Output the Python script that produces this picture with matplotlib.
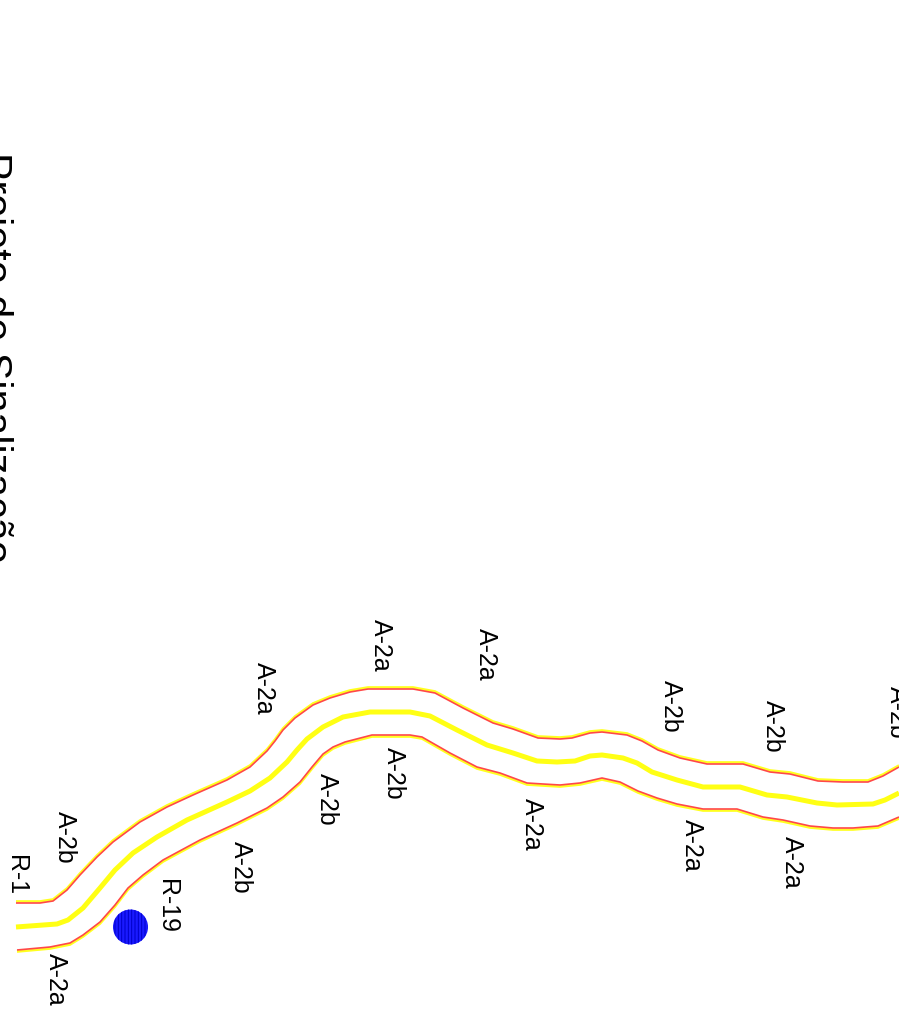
import matplotlib
matplotlib.use("Agg")
import matplotlib.pyplot as plt
from matplotlib.patches import Circle
from matplotlib.transforms import ScaledTranslation

plt.rcParams['font.family'] = ['Liberation Sans', 'DejaVu Sans']
plt.rcParams['hatch.linewidth'] = 0.7

TITLE = "Projeto de Sinalização"

top_x = [16, 40, 53, 67, 80, 97, 113, 140, 167, 193, 227, 250, 267, 275, 283, 295, 313, 330, 350, 368,
         413, 435, 463, 493, 513, 538, 560, 572, 590, 602, 627, 642, 658, 680, 707, 743, 770,
         790, 818, 843, 868, 883, 899]
top_y = [903, 903, 901, 890, 875, 857, 842, 822, 807, 795, 780, 767, 751, 741, 730, 718, 705, 698, 692, 689,
         689, 693, 708, 723, 729, 738, 739, 738, 733, 732, 735, 741, 750, 758, 764, 764, 772,
         774, 781, 782, 782, 776, 767]

mid_x = [16, 57, 68, 83, 100, 115, 133, 157, 187, 227, 250, 270, 287, 297, 307, 323, 343, 370,
         410, 430, 457, 487, 513, 537, 557, 575, 590, 602, 623, 637, 652, 677, 703, 740, 767,
         787, 817, 837, 873, 885, 899]
mid_y = [927, 924, 920, 908, 888, 870, 853, 837, 820, 802, 791, 778, 762, 750, 739, 727, 717, 712,
         712, 716, 730, 745, 753, 761, 762, 761, 756, 755, 758, 763, 772, 780, 787, 787, 795,
         797, 803, 805, 804, 800, 793]

bot_x = [17, 50, 70, 83, 100, 115, 128, 143, 163, 200, 237, 267, 283, 300, 312, 323, 333, 345, 372,
         410, 422, 450, 477, 500, 527, 543, 560, 580, 602, 620, 638, 657, 677, 703, 737, 763,
         783, 810, 833, 853, 878, 899]
bot_y = [950, 947, 943, 935, 922, 905, 888, 875, 860, 840, 823, 808, 797, 782, 767, 754, 747, 742, 735,
         735, 737, 753, 767, 773, 783, 784, 785, 783, 778, 782, 791, 798, 804, 809, 809, 817,
         820, 826, 828, 828, 826, 817]

label_text = ["R-1", "A-2b", "R-19", "A-2b", "A-2a", "A-2a", "A-2a", "A-2a", "A-2b", "A-2b",
              "A-2a", "A-2b", "A-2b", "A-2a", "A-2a", "A-2b"]
label_x = [15.5, 65, 167, 241, 56, 264, 381, 486, 394, 327, 532, 671, 773, 692, 792, 897]
label_y = [875, 837, 906, 867, 979, 688, 645, 654, 773, 799, 824, 706, 726, 845, 862, 712]

sign_x = [130.5]
sign_y = [927]

fig = plt.figure(figsize=(8.99, 10.18), dpi=100)
ax = fig.add_axes([0, 0, 1, 1])
ax.set_xlim(0, 899)
ax.set_ylim(1018, 0)
ax.axis('off')

# outer edges: yellow body, red outline on the outward side
inward_down = ScaledTranslation(0, -1.6 / 100, fig.dpi_scale_trans) + ax.transData
inward_up = ScaledTranslation(0, 1.6 / 100, fig.dpi_scale_trans) + ax.transData
line_style = dict(solid_joinstyle='round', solid_capstyle='butt')
ax.plot(top_x, top_y, color='#ffff20', lw=1.8, transform=inward_down, zorder=2, **line_style)
ax.plot(bot_x, bot_y, color='#ffff20', lw=1.8, transform=inward_up, zorder=2, **line_style)
ax.plot(top_x, top_y, color='#ff4848', lw=1.2, zorder=3, **line_style)
ax.plot(bot_x, bot_y, color='#ff4848', lw=1.2, zorder=3, **line_style)
ax.plot(mid_x, mid_y, color='#ffff14', lw=3.6, zorder=2, **line_style)

for sx, sy in zip(sign_x, sign_y):
    ax.add_patch(Circle((sx, sy), 17.5, facecolor='#1a1aff', edgecolor='#0000c8', linewidth=0,
                        hatch='|||||', zorder=4))

for t, x, y in zip(label_text, label_x, label_y):
    ax.text(x, y, t, rotation=-90, ha='center', va='center', fontsize=17.9, color='black', zorder=5)

ax.text(-6, 152, TITLE, rotation=-90, ha='center', va='top', fontsize=29.7, color='black', zorder=5)

fig.savefig('out.png', dpi=100)
